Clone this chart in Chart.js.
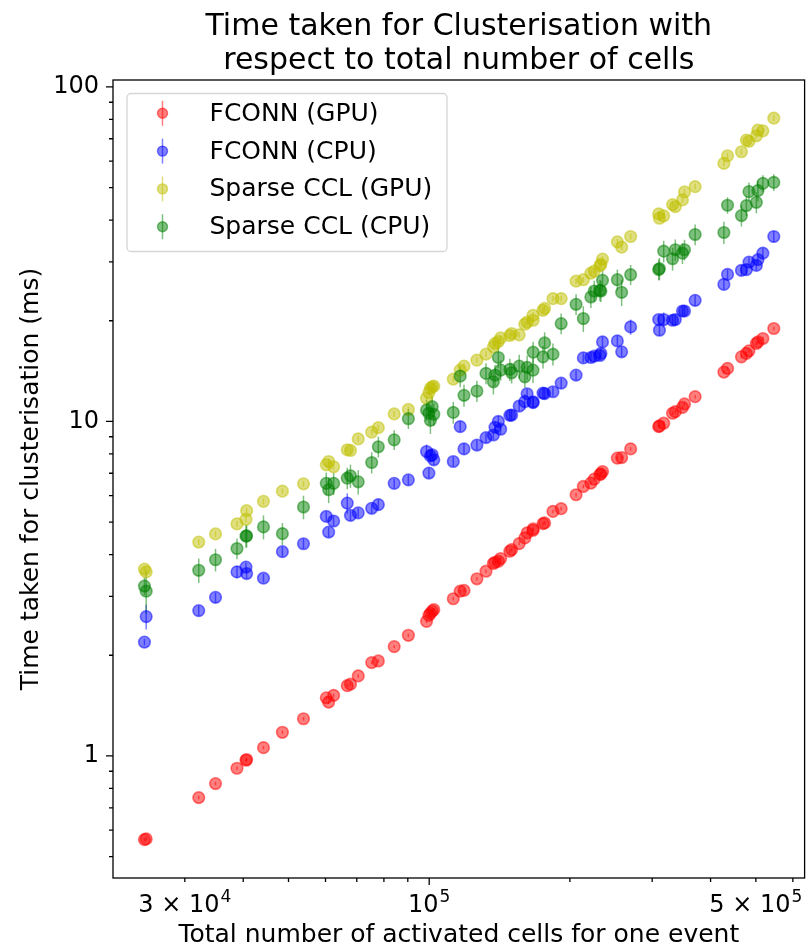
<!DOCTYPE html>
<html>
<head>
<meta charset="utf-8">
<title>Clusterisation timing</title>
<script src="https://cdn.jsdelivr.net/npm/chart.js@4.4.1/dist/chart.umd.min.js"></script>
<style>
  html, body { margin: 0; padding: 0; background: #fff; }
  #timing-chart { display: block; }
</style>
</head>
<body>
<canvas id="timing-chart" width="812" height="950"></canvas>
<script>
// Total number of activated cells in each event (shared by all four runs)
const cells = [24590, 24800, 32130, 34900, 38790, 40550, 40680, 44200, 48520, 53830,
    60230, 60940, 62450, 66790, 67850, 70500, 75330, 77840, 84160, 90250,
    98700, 99860, 100600, 101500, 102300, 112600, 116500, 118700, 126500, 132300,
    137200, 138300, 140600, 142200, 148800, 150100, 155800, 160200, 162000, 166800,
    166900, 175200, 176600, 184000, 191600, 206200, 213700, 221800, 225500, 231900,
    233000, 234900, 252700, 258100, 269800, 309800, 310900, 317500, 331700, 336200,
    348300, 351800, 370700, 427100, 434900, 465700, 477200, 483300, 501200, 505100,
    517600, 546200];

// Mean clusterisation time in ms
const fconnGpu = [0.562, 0.565, 0.751, 0.827, 0.919, 0.971, 0.976, 1.059, 1.177, 1.292,
    1.492, 1.449, 1.517, 1.622, 1.639, 1.735, 1.902, 1.923, 2.123, 2.295,
    2.526, 2.633, 2.669, 2.711, 2.737, 2.951, 3.109, 3.125, 3.386, 3.567,
    3.761, 3.794, 3.821, 3.893, 4.092, 4.140, 4.314, 4.486, 4.643, 4.727,
    4.772, 4.949, 4.973, 5.384, 5.485, 6.038, 6.392, 6.543, 6.725, 6.941,
    6.975, 7.087, 7.77, 7.80, 8.28, 9.65, 9.70, 9.88, 10.58, 10.70,
    11.02, 11.28, 11.86, 14.05, 14.41, 15.60, 15.97, 16.26, 17.10, 17.29,
    17.70, 18.96];
const fconnCpu = [2.19, 2.61, 2.72, 2.98, 3.55, 3.67, 3.51, 3.40, 4.08, 4.31,
    5.20, 4.67, 5.04, 5.70, 5.24, 5.33, 5.50, 5.64, 6.53, 6.69,
    8.13, 7.01, 7.89, 7.95, 7.68, 7.59, 9.65, 8.28, 8.50, 8.95,
    9.11, 9.61, 10.0, 9.48, 10.43, 10.45, 11.12, 11.46, 12.10, 11.38,
    11.45, 12.16, 12.11, 12.27, 13.02, 13.76, 15.49, 15.53, 15.67, 15.75,
    15.97, 17.29, 17.41, 16.15, 19.17, 20.17, 18.74, 20.17, 20.07, 20.17,
    21.39, 21.39, 23.02, 25.69, 27.52, 28.29, 28.43, 29.95, 29.28, 30.45,
    31.85, 35.72];
const sparseGpu = [3.62, 3.55, 4.36, 4.61, 4.94, 5.10, 5.41, 5.77, 6.19, 6.51,
    7.42, 7.59, 7.32, 8.23, 8.19, 8.87, 9.29, 9.58, 10.53, 10.86,
    11.73, 12.20, 12.56, 12.70, 12.76, 13.39, 14.24, 14.64, 15.25, 15.89,
    16.71, 17.10, 17.34, 17.77, 18.07, 18.32, 18.15, 19.53, 19.80, 20.77,
    20.07, 21.49, 21.79, 23.29, 23.29, 26.28, 26.53, 27.77, 28.15, 29.22,
    29.48, 30.57, 34.44, 33.19, 35.72, 41.74, 40.51, 41.18, 44.50, 43.89,
    45.96, 48.54, 50.34, 59.08, 62.28, 64.02, 69.36, 68.80, 71.45, 74.27,
    73.92, 80.66];
const sparseCpu = [3.22, 3.11, 3.59, 3.86, 4.17, 4.54, 4.55, 4.84, 4.62, 5.55,
    6.53, 6.25, 6.53, 6.77, 6.88, 6.60, 7.54, 8.40, 8.81, 10.19,
    10.82, 10.58, 10.08, 11.07, 10.51, 10.64, 13.66, 11.97, 12.33, 13.92,
    13.14, 13.76, 15.53, 14.24, 14.31, 13.98, 14.64, 13.60, 14.51, 14.24,
    16.11, 15.60, 17.17, 15.89, 19.62, 22.40, 20.31, 23.55, 24.54, 24.66,
    24.54, 26.41, 26.53, 24.32, 27.46, 28.43, 28.62, 32.29, 30.65, 32.61,
    31.85, 32.61, 36.22, 36.72, 44.29, 41.26, 44.20, 48.64, 45.20, 48.98,
    51.49, 51.84];

// Standard deviation of each timing (ms), drawn as vertical error bars
const fconnGpuErr = [0.007, 0.007, 0.009, 0.010, 0.011, 0.012, 0.012, 0.013, 0.014, 0.016,
    0.018, 0.017, 0.018, 0.019, 0.020, 0.021, 0.023, 0.023, 0.025, 0.028,
    0.030, 0.032, 0.032, 0.033, 0.033, 0.035, 0.037, 0.038, 0.041, 0.043,
    0.045, 0.046, 0.046, 0.047, 0.049, 0.050, 0.052, 0.054, 0.056, 0.057,
    0.057, 0.059, 0.060, 0.065, 0.066, 0.072, 0.077, 0.079, 0.081, 0.083,
    0.084, 0.085, 0.093, 0.094, 0.099, 0.116, 0.116, 0.119, 0.127, 0.128,
    0.132, 0.135, 0.142, 0.169, 0.173, 0.187, 0.192, 0.195, 0.205, 0.207,
    0.212, 0.228];
const fconnCpuErr = [0.05, 0.22, 0.09, 0.10, 0.15, 0.12, 0.12, 0.10, 0.14, 0.15,
    0.18, 0.16, 0.18, 0.40, 0.18, 0.17, 0.18, 0.20, 0.20, 0.23,
    0.40, 0.25, 0.30, 0.35, 0.28, 0.25, 0.35, 0.30, 0.30, 0.30,
    0.30, 0.35, 0.40, 0.35, 0.35, 0.35, 0.40, 0.60, 0.40, 0.40,
    0.40, 0.45, 0.45, 0.40, 0.45, 0.45, 0.50, 0.50, 0.50, 0.55,
    0.55, 0.60, 0.60, 0.55, 1.00, 0.70, 0.70, 1.00, 0.70, 0.70,
    0.70, 0.75, 0.80, 0.90, 0.90, 1.00, 1.00, 1.00, 1.00, 1.00,
    1.10, 1.40];
const sparseGpuErr = [0.07, 0.07, 0.09, 0.09, 0.10, 0.10, 0.11, 0.12, 0.12, 0.13,
    0.15, 0.15, 0.15, 0.16, 0.16, 0.18, 0.19, 0.19, 0.21, 0.22,
    0.23, 0.24, 0.25, 0.25, 0.26, 0.27, 0.28, 0.29, 0.30, 0.32,
    0.33, 0.34, 0.35, 0.36, 0.36, 0.37, 0.36, 0.39, 0.40, 0.42,
    0.40, 0.43, 0.44, 0.47, 0.47, 0.53, 0.53, 0.56, 0.56, 0.58,
    0.59, 0.61, 0.69, 0.66, 0.71, 0.83, 0.81, 0.82, 0.89, 0.88,
    0.92, 0.97, 1.00, 1.20, 1.25, 1.30, 1.40, 1.40, 1.45, 1.50,
    1.50, 1.60];
const sparseCpuErr = [0.20, 0.45, 0.30, 0.30, 0.30, 0.35, 0.35, 0.40, 0.35, 0.45,
    0.50, 0.55, 0.50, 0.50, 0.55, 0.55, 0.55, 0.60, 0.60, 0.70,
    0.80, 0.80, 0.90, 0.80, 0.80, 0.80, 1.00, 0.90, 0.90, 1.00,
    1.10, 1.00, 1.10, 1.00, 1.10, 1.00, 1.20, 1.00, 1.20, 1.20,
    1.20, 1.20, 1.30, 1.20, 1.40, 1.60, 1.80, 1.70, 1.80, 1.80,
    1.80, 1.90, 1.90, 2.20, 1.90, 2.00, 2.20, 2.40, 2.40, 2.40,
    2.30, 2.30, 2.60, 2.80, 2.50, 3.00, 3.00, 3.20, 3.30, 3.50,
    3.00, 3.00];

const seriesLabels = ['FCONN (GPU)', 'FCONN (CPU)', 'Sparse CCL (GPU)', 'Sparse CCL (CPU)'];
const seriesColors = ['255, 0, 0', '0, 0, 255', '191, 191, 0', '0, 128, 0'];

// Axis ranges and ticks
const xRange = [21060, 635700];
const yRange = [0.4317, 104.9];
const xTicks = [30000, 40000, 50000, 60000, 70000, 80000, 90000, 100000,
    200000, 300000, 400000, 500000, 600000];
const xMajorTicks = [100000];
// tick label as [mantissa text, power of ten]
const xTickLabels = { 30000: ['3 × 10', '4'], 100000: ['10', '5'], 500000: ['5 × 10', '5'] };
const yTicks = [0.5, 0.6, 0.7, 0.8, 0.9, 1, 2, 3, 4, 5, 6, 7, 8, 9,
    10, 20, 30, 40, 50, 60, 70, 80, 90, 100];
const yMajorTicks = [1, 10, 100];
const yTickLabels = { 1: '1', 10: '10', 100: '100' };

const chartTitle = ['Time taken for Clusterisation with', 'respect to total number of cells'];
const xTitle = 'Total number of activated cells for one event';
const yTitle = 'Time taken for clusterisation (ms)';

const FONT = 'DejaVu Sans';
Chart.defaults.font.family = FONT;
Chart.defaults.color = '#000';

const seriesValues = [fconnGpu, fconnCpu, sparseGpu, sparseCpu];
const seriesErrors = [fconnGpuErr, fconnCpuErr, sparseGpuErr, sparseCpuErr];

const datasets = seriesLabels.map((label, k) => ({
    label: label,
    data: cells.map((c, i) => ({ x: c, y: seriesValues[k][i] })),
    errors: seriesErrors[k],
    backgroundColor: `rgba(${seriesColors[k]}, 0.5)`,
    borderColor: `rgba(${seriesColors[k]}, 0.5)`,
    pointRadius: 5.8,
    pointBorderWidth: 1.6,
    order: seriesLabels.length - k   // later series on top
}));

// vertical error bars, drawn under the markers
const errorBars = {
    id: 'errorBars',
    beforeDatasetsDraw(chart) {
        const { ctx, scales: { x, y } } = chart;
        ctx.save();
        ctx.lineWidth = 1.5;
        chart.data.datasets.forEach(ds => {
            ctx.strokeStyle = ds.borderColor;
            ds.data.forEach((p, i) => {
                const err = ds.errors[i];
                if (!err) return;
                const px = x.getPixelForValue(p.x);
                ctx.beginPath();
                ctx.moveTo(px, y.getPixelForValue(p.y - err));
                ctx.lineTo(px, y.getPixelForValue(p.y + err));
                ctx.stroke();
            });
        });
        ctx.restore();
    }
};

// box around the plot, major/minor tick marks and the power-of-ten x labels
const axesFrame = {
    id: 'axesFrame',
    afterDraw(chart) {
        const { ctx, chartArea: a, scales: { x, y } } = chart;
        ctx.save();
        ctx.strokeStyle = '#000';
        ctx.lineWidth = 1.3;
        ctx.beginPath();
        xTicks.forEach(v => {
            const px = x.getPixelForValue(v);
            const len = xMajorTicks.includes(v) ? 7 : 4;
            ctx.moveTo(px, a.bottom);
            ctx.lineTo(px, a.bottom + len);
        });
        yTicks.forEach(v => {
            const py = y.getPixelForValue(v);
            const len = yMajorTicks.includes(v) ? 7 : 4;
            ctx.moveTo(a.left, py);
            ctx.lineTo(a.left - len, py);
        });
        ctx.stroke();
        ctx.strokeRect(a.left, a.top, a.right - a.left, a.bottom - a.top);

        ctx.fillStyle = '#000';
        ctx.textAlign = 'left';
        ctx.textBaseline = 'alphabetic';
        const baseFont = `24px "${FONT}"`, supFont = `17px "${FONT}"`;
        Object.keys(xTickLabels).forEach(key => {
            const [base, power] = xTickLabels[key];
            ctx.font = baseFont;
            const wb = ctx.measureText(base).width;
            ctx.font = supFont;
            const ws = ctx.measureText(power).width;
            const left = x.getPixelForValue(Number(key)) - (wb + ws + 1) / 2;
            const baseline = a.bottom + 33.5;
            ctx.font = baseFont;
            ctx.fillText(base, left, baseline);
            ctx.font = supFont;
            ctx.fillText(power, left + wb + 1, baseline - 10);
        });
        ctx.restore();
    }
};

function roundedRect(ctx, x, y, w, h, r) {
    ctx.beginPath();
    ctx.moveTo(x + r, y);
    ctx.arcTo(x + w, y, x + w, y + h, r);
    ctx.arcTo(x + w, y + h, x, y + h, r);
    ctx.arcTo(x, y + h, x, y, r);
    ctx.arcTo(x, y, x + w, y, r);
    ctx.closePath();
}

// two-line title over the plot and the legend box in its upper left corner
const titleAndLegend = {
    id: 'titleAndLegend',
    afterDraw(chart) {
        const { ctx, chartArea: a } = chart;
        ctx.save();
        ctx.fillStyle = '#000';
        ctx.font = `30px "${FONT}"`;
        ctx.textAlign = 'center';
        ctx.textBaseline = 'alphabetic';
        const cx = (a.left + a.right) / 2;
        ctx.fillText(chartTitle[0], cx, 35);
        ctx.fillText(chartTitle[1], cx, 68.5);

        const bx = a.left + 14, by = a.top + 13.5, bw = 320, bh = 158;
        roundedRect(ctx, bx, by, bw, bh, 4);
        ctx.fillStyle = 'rgba(255, 255, 255, 0.8)';
        ctx.fill();
        ctx.strokeStyle = 'rgba(204, 204, 204, 0.8)';
        ctx.lineWidth = 1.3;
        ctx.stroke();

        ctx.font = `25px "${FONT}"`;
        ctx.textAlign = 'left';
        ctx.textBaseline = 'middle';
        chart.data.datasets.forEach((ds, k) => {
            const ly = by + 19.8 + k * 37.8;
            const mx = bx + 35.5;
            ctx.strokeStyle = ds.borderColor;
            ctx.lineWidth = 1.5;
            ctx.beginPath();
            ctx.moveTo(mx, ly - 12.5);
            ctx.lineTo(mx, ly + 12.5);
            ctx.stroke();
            ctx.beginPath();
            ctx.arc(mx, ly, 5, 0, Math.PI * 2);
            ctx.fillStyle = ds.backgroundColor;
            ctx.fill();
            ctx.lineWidth = 1.4;
            ctx.stroke();
            ctx.fillStyle = '#000';
            ctx.fillText(ds.label, bx + 82.5, ly + 1);
        });
        ctx.restore();
    }
};

const ctx = document.getElementById('timing-chart').getContext('2d');
new Chart(ctx, {
    type: 'scatter',
    data: { datasets },
    options: {
        responsive: false,
        animation: false,
        events: [],
        layout: { padding: { top: 80, right: 2, bottom: 0, left: 0 } },
        plugins: {
            legend: { display: false },
            tooltip: { enabled: false },
            title: { display: false }
        },
        scales: {
            x: {
                type: 'logarithmic',
                min: xRange[0],
                max: xRange[1],
                grid: { display: false, drawTicks: false },
                border: { display: false },
                afterBuildTicks: scale => { scale.ticks = xTicks.map(v => ({ value: v })); },
                afterFit: scale => { scale.height = 72; },
                ticks: { display: false, autoSkip: false },
                title: { display: true, text: xTitle, font: { size: 25 }, padding: { top: 0, bottom: 0 } }
            },
            y: {
                type: 'logarithmic',
                min: yRange[0],
                max: yRange[1],
                grid: { display: false, drawTicks: false },
                border: { display: false },
                afterBuildTicks: scale => { scale.ticks = yTicks.map(v => ({ value: v })); },
                afterFit: scale => { scale.width = 113; },
                ticks: {
                    autoSkip: false,
                    padding: 14,
                    font: { size: 24 },
                    callback: v => yTickLabels[v] || ''
                },
                title: { display: true, text: yTitle, font: { size: 25 }, padding: { top: 16, bottom: 0 } }
            }
        }
    },
    plugins: [errorBars, axesFrame, titleAndLegend]
});
</script>
</body>
</html>
